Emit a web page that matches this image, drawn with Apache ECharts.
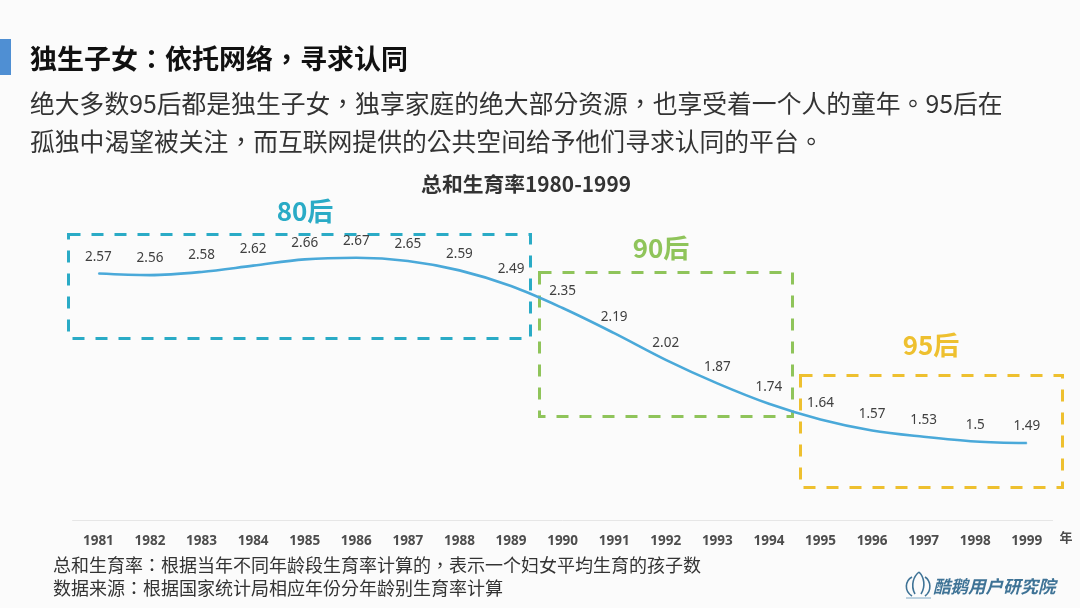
<!DOCTYPE html>
<html>
<head>
<meta charset="utf-8">
<title>独生子女：依托网络，寻求认同</title>
<style>
	html, body { margin: 0; padding: 0; background: #fbfbfb; }
	#main { width: 1080px; height: 608px; }
</style>
<script src="https://cdn.jsdelivr.net/npm/echarts@6/dist/echarts.min.js"></script>
</head>
<body>
<div id="main"></div>
<script>
	var years = ['1981','1982','1983','1984','1985','1986','1987','1988','1989','1990','1991','1992','1993','1994','1995','1996','1997','1998','1999'];
	var rates = [2.57,2.56,2.58,2.62,2.66,2.67,2.65,2.59,2.49,2.35,2.19,2.02,1.87,1.74,1.64,1.57,1.53,1.5,1.49];

	var pageTitle = '独生子女：依托网络，寻求认同';
	var introLines = [
		'绝大多数95后都是独生子女，独享家庭的绝大部分资源，也享受着一个人的童年。95后在',
		'孤独中渴望被关注，而互联网提供的公共空间给予他们寻求认同的平台。'
	];
	var noteLines = [
		'总和生育率：根据当年不同年龄段生育率计算的，表示一个妇女平均生育的孩子数',
		'数据来源：根据国家统计局相应年份分年龄别生育率计算'
	];
	var chartTitle = '总和生育率1980-1999';
	var logoText = '酷鹅用户研究院';

	// TC字体的标点居中，和原图一致
	var cjk = '"Noto Sans CJK TC", "Noto Sans CJK SC", "Noto Sans", sans-serif';
	var logoColor = '#3f7396';

	function text(str, x, y, size, color, weight, align) {
		return {
			type: 'text',
			z: 5,
			style: {
				x: x, y: y,
				text: str,
				fill: color,
				font: (weight || 'normal') + ' ' + size + 'px ' + cjk,
				textAlign: align || 'left',
				textVerticalAlign: 'middle'
			}
		};
	}

	function box(x, y, w, h, color) {  //虚线框
		return {
			type: 'rect',
			z: 1,
			shape: { x: x, y: y, width: w, height: h },
			style: { fill: 'none', stroke: color, lineWidth: 3, lineDash: [12, 11] }
		};
	}

	function curve(x1, y1, cx1, cy1, cx2, cy2, x2, y2, width) {  //logo的线条
		return {
			type: 'bezierCurve',
			z: 5,
			shape: { x1: x1, y1: y1, cpx1: cx1, cpy1: cy1, cpx2: cx2, cpy2: cy2, x2: x2, y2: y2 },
			style: { fill: 'none', stroke: logoColor, lineWidth: width }
		};
	}

	var graphics = [
		{ type: 'rect', z: 5, shape: { x: 0, y: 39, width: 11, height: 36 }, style: { fill: '#4f8fd3' } },
		text(pageTitle, 30, 59, 27, '#111111', 'bold'),
		text(introLines[0], 30, 104, 24.8, '#333333'),
		text(introLines[1], 30, 142, 24.8, '#333333'),

		box(68.5, 234.5, 462, 104, '#2aabc6'),
		box(539.5, 272.5, 253, 144, '#8fc45a'),
		box(800.5, 375.5, 262, 112, '#eec02f'),
		text('80后', 305, 211, 26, '#2aabc6', 'bold', 'center'),
		text('90后', 661, 248, 26, '#8fc45a', 'bold', 'center'),
		text('95后', 931, 345, 26, '#eec02f', 'bold', 'center'),

		text('年', 1066, 537, 13, '#4d4d4d', 'bold', 'center'),
		text(noteLines[0], 53, 565, 18, '#333333'),
		text(noteLines[1], 53, 588, 18, '#333333'),

		curve(912, 596, 904, 591, 905, 581, 912, 577, 1.6),
		curve(925, 596, 932, 591, 931, 581, 925, 577, 1.6),
		curve(915, 594, 910, 585, 914, 576, 919, 572, 1.6),
		curve(919, 572, 924, 577, 926, 586, 921, 594, 1.6),
		{ type: 'line', z: 5, shape: { x1: 906, y1: 598, x2: 931, y2: 598 }, style: { stroke: '#7fa8c4', lineWidth: 1 } },
		{
			type: 'text',
			z: 5,
			style: {
				x: 933, y: 586,
				text: logoText,
				fill: logoColor,
				font: 'italic bold 17.5px ' + cjk,
				textVerticalAlign: 'middle'
			}
		}
	];

	var option = {
		backgroundColor: '#fbfbfb',
		animation: false,
		title: {
			text: chartTitle,
			left: 521,
			top: 169,
			textAlign: 'center',
			textStyle: { fontFamily: cjk, fontSize: 20.8, fontWeight: 'bold', color: '#333333' }
		},
		grid: { left: 72.6, right: 27.4, top: 206, bottom: 88 },
		xAxis: {
			type: 'category',
			data: years,
			axisLine: { lineStyle: { color: '#e6e6e6', width: 1 } },
			axisTick: { show: false },
			axisLabel: {
				interval: 0,
				margin: 14,
				fontFamily: '"Noto Sans", sans-serif',
				fontSize: 13.5,
				fontWeight: 'bold',
				color: '#4d4d4d'
			}
		},
		yAxis: {
			type: 'value',
			min: 1,
			max: 3,
			show: false,
			splitLine: { show: false }
		},
		series: [
			{
				name: '总和生育率',
				type: 'line',
				data: rates,
				smooth: 0.35,
				symbol: 'circle',
				symbolSize: 1,   // symbol为none时标签不显示
				z: 3,
				itemStyle: { color: '#4aa9d9' },
				lineStyle: { color: '#4aa9d9', width: 2.6 },
				label: {
					show: true,
					position: 'top',
					distance: 9,
					fontFamily: '"Noto Sans", sans-serif',
					fontSize: 13.5,
					color: '#404040'
				}
			}
		],
		graphic: { elements: graphics }
	};

	echarts.init(document.getElementById('main')).setOption(option);
</script>
</body>
</html>
